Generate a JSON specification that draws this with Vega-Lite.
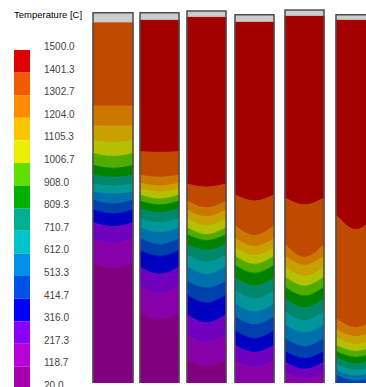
{
"$schema": "https://vega.github.io/schema/vega-lite/v6.json",
"width": 366, "height": 387, "padding": 0,
"autosize": {"type": "fit", "contains": "padding"},
"config": {"view": {"stroke": null}, "axis": {"disable": true}, "text": {"font": "Liberation Sans"}},
"datasets": {
"cols": [
{"c":1,"left":93,"right":133,"capTop":13,"capBot":22.5},
{"c":2,"left":140,"right":179,"capTop":13,"capBot":20},
{"c":3,"left":187,"right":226,"capTop":11,"capBot":17},
{"c":4,"left":235,"right":274,"capTop":15,"capBot":22},
{"c":5,"left":285,"right":324,"capTop":10,"capBot":16},
{"c":6,"left":336,"right":376,"capTop":15,"capBot":20}
],
"bands": [
{"c":1,"t":1302.7,"x":93,"y":22.5,"y2":107},{"c":1,"t":1302.7,"x":113,"y":22.5,"y2":107},{"c":1,"t":1302.7,"x":133,"y":22.5,"y2":107},
{"c":1,"t":1204.0,"x":93,"y":107,"y2":127},{"c":1,"t":1204.0,"x":113,"y":107,"y2":127.5},{"c":1,"t":1204.0,"x":133,"y":107,"y2":127},
{"c":1,"t":1105.3,"x":93,"y":127,"y2":142},{"c":1,"t":1105.3,"x":113,"y":127.5,"y2":144},{"c":1,"t":1105.3,"x":133,"y":127,"y2":142},
{"c":1,"t":1006.7,"x":93,"y":142,"y2":155},{"c":1,"t":1006.7,"x":113,"y":144,"y2":158},{"c":1,"t":1006.7,"x":133,"y":142,"y2":155},
{"c":1,"t":908.0,"x":93,"y":155,"y2":167},{"c":1,"t":908.0,"x":113,"y":158,"y2":170},{"c":1,"t":908.0,"x":133,"y":155,"y2":167},
{"c":1,"t":809.3,"x":93,"y":167,"y2":177},{"c":1,"t":809.3,"x":113,"y":170,"y2":179},{"c":1,"t":809.3,"x":133,"y":167,"y2":177},
{"c":1,"t":710.7,"x":93,"y":177,"y2":186},{"c":1,"t":710.7,"x":113,"y":179,"y2":188},{"c":1,"t":710.7,"x":133,"y":177,"y2":186},
{"c":1,"t":612.0,"x":93,"y":186,"y2":194},{"c":1,"t":612.0,"x":113,"y":188,"y2":196},{"c":1,"t":612.0,"x":133,"y":186,"y2":194},
{"c":1,"t":513.3,"x":93,"y":194,"y2":202},{"c":1,"t":513.3,"x":113,"y":196,"y2":206},{"c":1,"t":513.3,"x":133,"y":194,"y2":202},
{"c":1,"t":414.7,"x":93,"y":202,"y2":212},{"c":1,"t":414.7,"x":113,"y":206,"y2":216},{"c":1,"t":414.7,"x":133,"y":202,"y2":212},
{"c":1,"t":316.0,"x":93,"y":212,"y2":225},{"c":1,"t":316.0,"x":113,"y":216,"y2":229},{"c":1,"t":316.0,"x":133,"y":212,"y2":225},
{"c":1,"t":217.3,"x":93,"y":225,"y2":241},{"c":1,"t":217.3,"x":113,"y":229,"y2":246},{"c":1,"t":217.3,"x":133,"y":225,"y2":241},
{"c":1,"t":118.7,"x":93,"y":241,"y2":266},{"c":1,"t":118.7,"x":113,"y":246,"y2":271},{"c":1,"t":118.7,"x":133,"y":241,"y2":266},
{"c":1,"t":20.0,"x":93,"y":266,"y2":387},{"c":1,"t":20.0,"x":113,"y":271,"y2":387},{"c":1,"t":20.0,"x":133,"y":266,"y2":387},

{"c":2,"t":1401.3,"x":140,"y":20,"y2":153},{"c":2,"t":1401.3,"x":159.5,"y":20,"y2":154},{"c":2,"t":1401.3,"x":179,"y":20,"y2":153},
{"c":2,"t":1302.7,"x":140,"y":153,"y2":177},{"c":2,"t":1302.7,"x":159.5,"y":154,"y2":179},{"c":2,"t":1302.7,"x":179,"y":153,"y2":177},
{"c":2,"t":1204.0,"x":140,"y":177,"y2":185},{"c":2,"t":1204.0,"x":159.5,"y":179,"y2":188},{"c":2,"t":1204.0,"x":179,"y":177,"y2":185},
{"c":2,"t":1105.3,"x":140,"y":185,"y2":191},{"c":2,"t":1105.3,"x":159.5,"y":188,"y2":194},{"c":2,"t":1105.3,"x":179,"y":185,"y2":191},
{"c":2,"t":1006.7,"x":140,"y":191,"y2":197},{"c":2,"t":1006.7,"x":159.5,"y":194,"y2":201},{"c":2,"t":1006.7,"x":179,"y":191,"y2":197},
{"c":2,"t":908.0,"x":140,"y":197,"y2":203},{"c":2,"t":908.0,"x":159.5,"y":201,"y2":207},{"c":2,"t":908.0,"x":179,"y":197,"y2":203},
{"c":2,"t":809.3,"x":140,"y":203,"y2":211},{"c":2,"t":809.3,"x":159.5,"y":207,"y2":215},{"c":2,"t":809.3,"x":179,"y":203,"y2":211},
{"c":2,"t":710.7,"x":140,"y":211,"y2":221},{"c":2,"t":710.7,"x":159.5,"y":215,"y2":225},{"c":2,"t":710.7,"x":179,"y":211,"y2":221},
{"c":2,"t":612.0,"x":140,"y":221,"y2":230},{"c":2,"t":612.0,"x":159.5,"y":225,"y2":235},{"c":2,"t":612.0,"x":179,"y":221,"y2":230},
{"c":2,"t":513.3,"x":140,"y":230,"y2":241},{"c":2,"t":513.3,"x":159.5,"y":235,"y2":247},{"c":2,"t":513.3,"x":179,"y":230,"y2":241},
{"c":2,"t":414.7,"x":140,"y":241,"y2":253},{"c":2,"t":414.7,"x":159.5,"y":247,"y2":259},{"c":2,"t":414.7,"x":179,"y":241,"y2":253},
{"c":2,"t":316.0,"x":140,"y":253,"y2":270},{"c":2,"t":316.0,"x":159.5,"y":259,"y2":277},{"c":2,"t":316.0,"x":179,"y":253,"y2":270},
{"c":2,"t":217.3,"x":140,"y":270,"y2":289},{"c":2,"t":217.3,"x":159.5,"y":277,"y2":297},{"c":2,"t":217.3,"x":179,"y":270,"y2":289},
{"c":2,"t":118.7,"x":140,"y":289,"y2":316},{"c":2,"t":118.7,"x":159.5,"y":297,"y2":323},{"c":2,"t":118.7,"x":179,"y":289,"y2":316},
{"c":2,"t":20.0,"x":140,"y":316,"y2":387},{"c":2,"t":20.0,"x":159.5,"y":323,"y2":387},{"c":2,"t":20.0,"x":179,"y":316,"y2":387},

{"c":3,"t":1401.3,"x":187,"y":17,"y2":186},{"c":3,"t":1401.3,"x":206.5,"y":17,"y2":189},{"c":3,"t":1401.3,"x":226,"y":17,"y2":186},
{"c":3,"t":1302.7,"x":187,"y":186,"y2":203},{"c":3,"t":1302.7,"x":206.5,"y":189,"y2":210},{"c":3,"t":1302.7,"x":226,"y":186,"y2":203},
{"c":3,"t":1204.0,"x":187,"y":203,"y2":212},{"c":3,"t":1204.0,"x":206.5,"y":210,"y2":219},{"c":3,"t":1204.0,"x":226,"y":203,"y2":212},
{"c":3,"t":1105.3,"x":187,"y":212,"y2":221},{"c":3,"t":1105.3,"x":206.5,"y":219,"y2":228},{"c":3,"t":1105.3,"x":226,"y":212,"y2":221},
{"c":3,"t":1006.7,"x":187,"y":221,"y2":230},{"c":3,"t":1006.7,"x":206.5,"y":228,"y2":237},{"c":3,"t":1006.7,"x":226,"y":221,"y2":230},
{"c":3,"t":908.0,"x":187,"y":230,"y2":237},{"c":3,"t":908.0,"x":206.5,"y":237,"y2":243},{"c":3,"t":908.0,"x":226,"y":230,"y2":237},
{"c":3,"t":809.3,"x":187,"y":237,"y2":247},{"c":3,"t":809.3,"x":206.5,"y":243,"y2":253},{"c":3,"t":809.3,"x":226,"y":237,"y2":247},
{"c":3,"t":710.7,"x":187,"y":247,"y2":258},{"c":3,"t":710.7,"x":206.5,"y":253,"y2":265},{"c":3,"t":710.7,"x":226,"y":247,"y2":258},
{"c":3,"t":612.0,"x":187,"y":258,"y2":269},{"c":3,"t":612.0,"x":206.5,"y":265,"y2":277},{"c":3,"t":612.0,"x":226,"y":258,"y2":269},
{"c":3,"t":513.3,"x":187,"y":269,"y2":284},{"c":3,"t":513.3,"x":206.5,"y":277,"y2":291},{"c":3,"t":513.3,"x":226,"y":269,"y2":284},
{"c":3,"t":414.7,"x":187,"y":284,"y2":298},{"c":3,"t":414.7,"x":206.5,"y":291,"y2":306},{"c":3,"t":414.7,"x":226,"y":284,"y2":298},
{"c":3,"t":316.0,"x":187,"y":298,"y2":318},{"c":3,"t":316.0,"x":206.5,"y":306,"y2":326},{"c":3,"t":316.0,"x":226,"y":298,"y2":318},
{"c":3,"t":217.3,"x":187,"y":318,"y2":339},{"c":3,"t":217.3,"x":206.5,"y":326,"y2":346},{"c":3,"t":217.3,"x":226,"y":318,"y2":339},
{"c":3,"t":118.7,"x":187,"y":339,"y2":364},{"c":3,"t":118.7,"x":206.5,"y":346,"y2":370},{"c":3,"t":118.7,"x":226,"y":339,"y2":364},
{"c":3,"t":20.0,"x":187,"y":364,"y2":387},{"c":3,"t":20.0,"x":206.5,"y":370,"y2":387},{"c":3,"t":20.0,"x":226,"y":364,"y2":387},

{"c":4,"t":1401.3,"x":235,"y":22,"y2":197},{"c":4,"t":1401.3,"x":254.5,"y":22,"y2":203},{"c":4,"t":1401.3,"x":274,"y":22,"y2":197},
{"c":4,"t":1302.7,"x":235,"y":197,"y2":228},{"c":4,"t":1302.7,"x":254.5,"y":203,"y2":238},{"c":4,"t":1302.7,"x":274,"y":197,"y2":228},
{"c":4,"t":1204.0,"x":235,"y":228,"y2":241},{"c":4,"t":1204.0,"x":254.5,"y":238,"y2":249},{"c":4,"t":1204.0,"x":274,"y":228,"y2":241},
{"c":4,"t":1105.3,"x":235,"y":241,"y2":250},{"c":4,"t":1105.3,"x":254.5,"y":249,"y2":258},{"c":4,"t":1105.3,"x":274,"y":241,"y2":250},
{"c":4,"t":1006.7,"x":235,"y":250,"y2":259},{"c":4,"t":1006.7,"x":254.5,"y":258,"y2":267},{"c":4,"t":1006.7,"x":274,"y":250,"y2":259},
{"c":4,"t":908.0,"x":235,"y":259,"y2":268},{"c":4,"t":908.0,"x":254.5,"y":267,"y2":276},{"c":4,"t":908.0,"x":274,"y":259,"y2":268},
{"c":4,"t":809.3,"x":235,"y":268,"y2":281},{"c":4,"t":809.3,"x":254.5,"y":276,"y2":289},{"c":4,"t":809.3,"x":274,"y":268,"y2":281},
{"c":4,"t":710.7,"x":235,"y":281,"y2":294},{"c":4,"t":710.7,"x":254.5,"y":289,"y2":302},{"c":4,"t":710.7,"x":274,"y":281,"y2":294},
{"c":4,"t":612.0,"x":235,"y":294,"y2":307},{"c":4,"t":612.0,"x":254.5,"y":302,"y2":315},{"c":4,"t":612.0,"x":274,"y":294,"y2":307},
{"c":4,"t":513.3,"x":235,"y":307,"y2":320},{"c":4,"t":513.3,"x":254.5,"y":315,"y2":328},{"c":4,"t":513.3,"x":274,"y":307,"y2":320},
{"c":4,"t":414.7,"x":235,"y":320,"y2":334},{"c":4,"t":414.7,"x":254.5,"y":328,"y2":342},{"c":4,"t":414.7,"x":274,"y":320,"y2":334},
{"c":4,"t":316.0,"x":235,"y":334,"y2":349},{"c":4,"t":316.0,"x":254.5,"y":342,"y2":356},{"c":4,"t":316.0,"x":274,"y":334,"y2":349},
{"c":4,"t":217.3,"x":235,"y":349,"y2":365},{"c":4,"t":217.3,"x":254.5,"y":356,"y2":371},{"c":4,"t":217.3,"x":274,"y":349,"y2":365},
{"c":4,"t":118.7,"x":235,"y":365,"y2":387},{"c":4,"t":118.7,"x":254.5,"y":371,"y2":387},{"c":4,"t":118.7,"x":274,"y":365,"y2":387},

{"c":5,"t":1401.3,"x":285,"y":16,"y2":200},{"c":5,"t":1401.3,"x":304.5,"y":16,"y2":207},{"c":5,"t":1401.3,"x":324,"y":16,"y2":200},
{"c":5,"t":1302.7,"x":285,"y":200,"y2":247},{"c":5,"t":1302.7,"x":304.5,"y":207,"y2":260},{"c":5,"t":1302.7,"x":324,"y":200,"y2":247},
{"c":5,"t":1204.0,"x":285,"y":247,"y2":259},{"c":5,"t":1204.0,"x":304.5,"y":260,"y2":268},{"c":5,"t":1204.0,"x":324,"y":247,"y2":259},
{"c":5,"t":1105.3,"x":285,"y":259,"y2":270},{"c":5,"t":1105.3,"x":304.5,"y":268,"y2":279},{"c":5,"t":1105.3,"x":324,"y":259,"y2":270},
{"c":5,"t":1006.7,"x":285,"y":270,"y2":280},{"c":5,"t":1006.7,"x":304.5,"y":279,"y2":289},{"c":5,"t":1006.7,"x":324,"y":270,"y2":280},
{"c":5,"t":908.0,"x":285,"y":280,"y2":290},{"c":5,"t":908.0,"x":304.5,"y":289,"y2":299},{"c":5,"t":908.0,"x":324,"y":280,"y2":290},
{"c":5,"t":809.3,"x":285,"y":290,"y2":302},{"c":5,"t":809.3,"x":304.5,"y":299,"y2":311},{"c":5,"t":809.3,"x":324,"y":290,"y2":302},
{"c":5,"t":710.7,"x":285,"y":302,"y2":315},{"c":5,"t":710.7,"x":304.5,"y":311,"y2":324},{"c":5,"t":710.7,"x":324,"y":302,"y2":315},
{"c":5,"t":612.0,"x":285,"y":315,"y2":328},{"c":5,"t":612.0,"x":304.5,"y":324,"y2":336},{"c":5,"t":612.0,"x":324,"y":315,"y2":328},
{"c":5,"t":513.3,"x":285,"y":328,"y2":342},{"c":5,"t":513.3,"x":304.5,"y":336,"y2":350},{"c":5,"t":513.3,"x":324,"y":328,"y2":342},
{"c":5,"t":414.7,"x":285,"y":342,"y2":355},{"c":5,"t":414.7,"x":304.5,"y":350,"y2":362},{"c":5,"t":414.7,"x":324,"y":342,"y2":355},
{"c":5,"t":316.0,"x":285,"y":355,"y2":366},{"c":5,"t":316.0,"x":304.5,"y":362,"y2":373},{"c":5,"t":316.0,"x":324,"y":355,"y2":366},
{"c":5,"t":217.3,"x":285,"y":366,"y2":377},{"c":5,"t":217.3,"x":304.5,"y":373,"y2":383},{"c":5,"t":217.3,"x":324,"y":366,"y2":377},
{"c":5,"t":118.7,"x":285,"y":377,"y2":387},{"c":5,"t":118.7,"x":304.5,"y":383,"y2":387},{"c":5,"t":118.7,"x":324,"y":377,"y2":387},

{"c":6,"t":1401.3,"x":336,"y":20,"y2":217},{"c":6,"t":1401.3,"x":356,"y":20,"y2":232},{"c":6,"t":1401.3,"x":376,"y":20,"y2":217},
{"c":6,"t":1302.7,"x":336,"y":217,"y2":322},{"c":6,"t":1302.7,"x":356,"y":232,"y2":331},{"c":6,"t":1302.7,"x":376,"y":217,"y2":322},
{"c":6,"t":1204.0,"x":336,"y":322,"y2":333},{"c":6,"t":1204.0,"x":356,"y":331,"y2":340},{"c":6,"t":1204.0,"x":376,"y":322,"y2":333},
{"c":6,"t":1105.3,"x":336,"y":333,"y2":341},{"c":6,"t":1105.3,"x":356,"y":340,"y2":348},{"c":6,"t":1105.3,"x":376,"y":333,"y2":341},
{"c":6,"t":1006.7,"x":336,"y":341,"y2":349},{"c":6,"t":1006.7,"x":356,"y":348,"y2":355},{"c":6,"t":1006.7,"x":376,"y":341,"y2":349},
{"c":6,"t":908.0,"x":336,"y":349,"y2":355},{"c":6,"t":908.0,"x":356,"y":355,"y2":361},{"c":6,"t":908.0,"x":376,"y":349,"y2":355},
{"c":6,"t":809.3,"x":336,"y":355,"y2":361},{"c":6,"t":809.3,"x":356,"y":361,"y2":368},{"c":6,"t":809.3,"x":376,"y":355,"y2":361},
{"c":6,"t":710.7,"x":336,"y":361,"y2":368},{"c":6,"t":710.7,"x":356,"y":368,"y2":374},{"c":6,"t":710.7,"x":376,"y":361,"y2":368},
{"c":6,"t":612.0,"x":336,"y":368,"y2":374},{"c":6,"t":612.0,"x":356,"y":374,"y2":380},{"c":6,"t":612.0,"x":376,"y":368,"y2":374},
{"c":6,"t":513.3,"x":336,"y":374,"y2":379},{"c":6,"t":513.3,"x":356,"y":380,"y2":385},{"c":6,"t":513.3,"x":376,"y":374,"y2":379},
{"c":6,"t":414.7,"x":336,"y":379,"y2":387},{"c":6,"t":414.7,"x":356,"y":385,"y2":387},{"c":6,"t":414.7,"x":376,"y":379,"y2":387}
],
"legend": [
{"t":1401.3,"hi":1500.0},{"t":1302.7,"hi":1401.3},{"t":1204.0,"hi":1302.7},{"t":1105.3,"hi":1204.0},{"t":1006.7,"hi":1105.3},
{"t":908.0,"hi":1006.7},{"t":809.3,"hi":908.0},{"t":710.7,"hi":809.3},{"t":612.0,"hi":710.7},{"t":513.3,"hi":612.0},
{"t":414.7,"hi":513.3},{"t":316.0,"hi":414.7},{"t":217.3,"hi":316.0},{"t":118.7,"hi":217.3},{"t":20.0,"hi":118.7}
],
"labels": [
{"v":1500.0},{"v":1401.3},{"v":1302.7},{"v":1204.0},{"v":1105.3},{"v":1006.7},{"v":908.0},{"v":809.3},
{"v":710.7},{"v":612.0},{"v":513.3},{"v":414.7},{"v":316.0},{"v":217.3},{"v":118.7},{"v":20.0}
]
},
"layer": [
{
"layer": [
{
"data": {"name": "bands"},
"mark": {"type": "area", "orient": "vertical", "interpolate": "monotone", "clip": true, "strokeWidth": 0.8},
"encoding": {
"x": {"field": "x", "type": "quantitative", "scale": {"domain": [0, 366], "nice": false, "zero": false}},
"y": {"field": "y", "type": "quantitative", "stack": null, "scale": {"domain": [0, 387], "reverse": true, "nice": false, "zero": false}},
"y2": {"field": "y2"},
"detail": {"field": "c", "type": "nominal"},
"color": {"field": "t", "type": "ordinal", "legend": null,
"scale": {"domain": [1401.3,1302.7,1204.0,1105.3,1006.7,908.0,809.3,710.7,612.0,513.3,414.7,316.0,217.3,118.7,20.0],
"range": ["#a40000","#c04a00","#cc7800","#c8a000","#b4c000","#50ac00","#008400","#00886c","#00969a","#0070ac","#0040ac","#0000c0","#7000c0","#8800a8","#800080"]}},
"stroke": {"field": "t", "type": "ordinal", "legend": null,
"scale": {"domain": [1401.3,1302.7,1204.0,1105.3,1006.7,908.0,809.3,710.7,612.0,513.3,414.7,316.0,217.3,118.7,20.0],
"range": ["#a40000","#c04a00","#cc7800","#c8a000","#b4c000","#50ac00","#008400","#00886c","#00969a","#0070ac","#0040ac","#0000c0","#7000c0","#8800a8","#800080"]}}
}
},
{
"data": {"name": "cols"},
"mark": {"type": "rect", "fill": "#cdcdcd", "clip": true},
"encoding": {
"x": {"field": "left", "type": "quantitative"},
"x2": {"field": "right"},
"y": {"field": "capTop", "type": "quantitative"},
"y2": {"field": "capBot"}
}
},
{
"data": {"name": "cols"},
"mark": {"type": "rect", "fill": null, "filled": false, "stroke": "#4d4d4d", "strokeWidth": 1.5, "clip": true},
"encoding": {
"x": {"field": "left", "type": "quantitative"},
"x2": {"field": "right"},
"y": {"field": "capTop", "type": "quantitative"},
"y2": {"datum": 400}
}
},
{
"data": {"values": [{"label": "Temperature [C]"}]},
"mark": {"type": "text", "align": "left", "baseline": "middle", "fontSize": 9.5, "fill": "#000000"},
"encoding": {
"x": {"datum": 14, "type": "quantitative"},
"y": {"datum": 15, "type": "quantitative"},
"text": {"field": "label"}
}
}
]
},
{
"layer": [
{
"data": {"name": "legend"},
"mark": {"type": "rect"},
"encoding": {
"x": {"datum": 14, "type": "quantitative"},
"x2": {"datum": 30},
"y": {"field": "hi", "type": "quantitative", "scale": {"domain": [20, 1500], "range": [389, 50], "nice": false, "zero": false}},
"y2": {"field": "t"},
"color": {"field": "t", "type": "ordinal", "legend": null,
"scale": {"domain": [1401.3,1302.7,1204.0,1105.3,1006.7,908.0,809.3,710.7,612.0,513.3,414.7,316.0,217.3,118.7,20.0],
"range": ["#e00000","#f05a00","#ff8c00","#ffc400","#e8f000","#60e000","#00b000","#00b090","#00c4c8","#0090e8","#0050e8","#0000ff","#8800f8","#b800d8","#a800b0"]}}
}
},
{
"data": {"name": "labels"},
"mark": {"type": "text", "align": "left", "baseline": "middle", "dy": -3, "fontSize": 10, "fill": "#444444"},
"encoding": {
"x": {"datum": 44, "type": "quantitative"},
"y": {"field": "v", "type": "quantitative"},
"text": {"field": "v", "type": "quantitative", "format": ".1f"}
}
}
]
}
],
"resolve": {"scale": {"y": "independent", "color": "independent", "stroke": "independent"}}
}
